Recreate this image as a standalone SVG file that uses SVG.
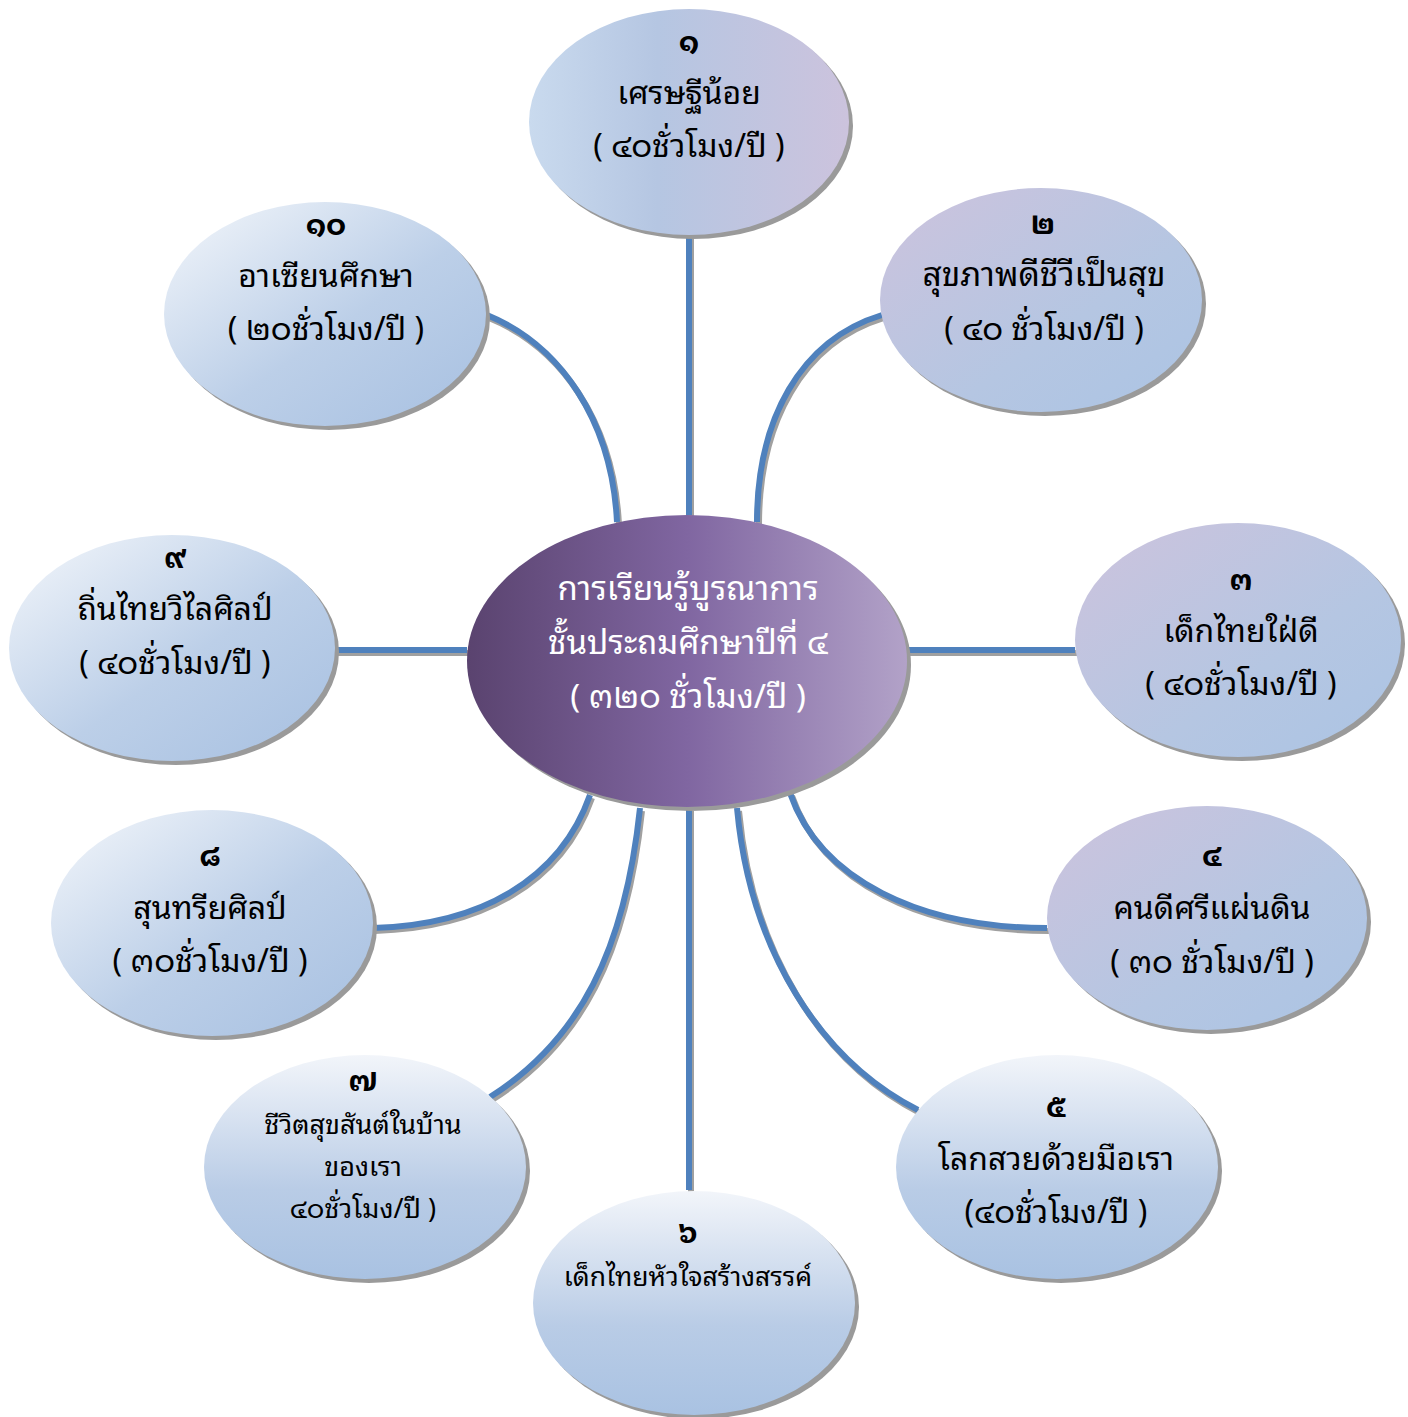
<svg xmlns="http://www.w3.org/2000/svg" width="1408" height="1417" viewBox="0 0 1408 1417">
<defs>
<linearGradient id="gH" x1="0" y1="0" x2="1" y2="0"><stop offset="0" stop-color="#c9daee"/><stop offset="0.4" stop-color="#b5c6e2"/><stop offset="1" stop-color="#ccc3dd"/></linearGradient>
<linearGradient id="gL" x1="0" y1="0" x2="1" y2="1"><stop offset="0" stop-color="#cdc3dd"/><stop offset="0.6" stop-color="#b5c6e2"/><stop offset="1" stop-color="#abc4e4"/></linearGradient>
<linearGradient id="gV" x1="0" y1="0" x2="0" y2="1"><stop offset="0" stop-color="#f2f5fa"/><stop offset="0.6" stop-color="#b9cce6"/><stop offset="1" stop-color="#a9c2e2"/></linearGradient>
<linearGradient id="gD" x1="0" y1="0" x2="1" y2="1"><stop offset="0" stop-color="#f4f7fb"/><stop offset="0.55" stop-color="#bccfe8"/><stop offset="1" stop-color="#a7c0e1"/></linearGradient>
<linearGradient id="gC" x1="0" y1="0" x2="1" y2="0"><stop offset="0" stop-color="#5a436f"/><stop offset="0.5" stop-color="#8066a1"/><stop offset="1" stop-color="#b2a2c8"/></linearGradient>
</defs>
<style>
.sh{fill:#9a9a9a}
.ln{fill:none;stroke:#4f81bd;stroke-width:6}
.lns{fill:none;stroke:#a0a0a0;stroke-width:6}
text{font-family:"Noto Sans Thai Looped","Loma","Garuda","Waree","Noto Sans Thai","Noto Sans","DejaVu Sans",sans-serif;text-anchor:middle;fill:#000}
.t{font-size:32px}
.n{font-size:30px;font-weight:bold}
.s{font-size:27px}
.s6{font-size:26.5px}
.w{fill:#fff;font-size:33px}
</style>
<g id="connectors">
<g transform="translate(2,3)">
<path class="lns" d="M689 235V515"/>
<path class="lns" d="M757 522C757 420 800 340 882 315"/>
<path class="lns" d="M908 650H1075"/>
<path class="lns" d="M790 793C820 880 920 928 1047 928"/>
<path class="lns" d="M737 808C750 950 820 1060 918 1110"/>
<path class="lns" d="M689 808V1190"/>
<path class="lns" d="M640 808C625 950 580 1040 490 1097"/>
<path class="lns" d="M590 795C560 880 480 925 373 928"/>
<path class="lns" d="M336 650H467"/>
<path class="lns" d="M487 315C560 345 612 420 617 522"/>
</g>
<path class="ln" d="M689 235V515"/>
<path class="ln" d="M757 522C757 420 800 340 882 315"/>
<path class="ln" d="M908 650H1075"/>
<path class="ln" d="M790 793C820 880 920 928 1047 928"/>
<path class="ln" d="M737 808C750 950 820 1060 918 1110"/>
<path class="ln" d="M689 808V1190"/>
<path class="ln" d="M640 808C625 950 580 1040 490 1097"/>
<path class="ln" d="M590 795C560 880 480 925 373 928"/>
<path class="ln" d="M336 650H467"/>
<path class="ln" d="M487 315C560 345 612 420 617 522"/>
</g>
<g id="center">
<ellipse class="sh" cx="691" cy="665" rx="220" ry="146"/>
<ellipse cx="687" cy="661" rx="220" ry="146" fill="url(#gC)"/>
<text class="w" x="688" y="600">การเรียนรู้บูรณาการ</text>
<text class="w" x="688" y="654">ชั้นประถมศึกษาปีที่ ๔</text>
<text class="w" x="688" y="708">( ๓๒๐ ชั่วโมง/ปี )</text>
</g>
<g id="node1">
<ellipse class="sh" cx="693" cy="126" rx="160" ry="113"/>
<ellipse cx="689" cy="122" rx="160" ry="113" fill="url(#gH)"/>
<text class="n" x="689" y="52">๑</text>
<text class="t" x="689" y="104">เศรษฐีน้อย</text>
<text class="t" x="689" y="157">( ๔๐ชั่วโมง/ปี )</text>
</g>
<g id="node2">
<ellipse class="sh" cx="1045" cy="304" rx="161" ry="112"/>
<ellipse cx="1041" cy="300" rx="161" ry="112" fill="url(#gL)"/>
<text class="n" x="1043" y="234">๒</text>
<text class="t" x="1044" y="286" style="font-size:33.5px">สุขภาพดีชีวีเป็นสุข</text>
<text class="t" x="1044" y="340">( ๔๐ ชั่วโมง/ปี )</text>
</g>
<g id="node3">
<ellipse class="sh" cx="1242" cy="644" rx="163" ry="117"/>
<ellipse cx="1238" cy="640" rx="163" ry="117" fill="url(#gL)"/>
<text class="n" x="1241" y="590">๓</text>
<text class="t" x="1241" y="642">เด็กไทยใฝ่ดี</text>
<text class="t" x="1241" y="695">( ๔๐ชั่วโมง/ปี )</text>
</g>
<g id="node4">
<ellipse class="sh" cx="1211" cy="922" rx="160" ry="112"/>
<ellipse cx="1207" cy="918" rx="160" ry="112" fill="url(#gL)"/>
<text class="n" x="1212" y="866">๔</text>
<text class="t" x="1212" y="919">คนดีศรีแผ่นดิน</text>
<text class="t" x="1212" y="973">( ๓๐ ชั่วโมง/ปี )</text>
</g>
<g id="node5">
<ellipse class="sh" cx="1061" cy="1171" rx="161" ry="112"/>
<ellipse cx="1057" cy="1167" rx="161" ry="112" fill="url(#gV)"/>
<text class="n" x="1056" y="1117">๕</text>
<text class="t" x="1056" y="1170">โลกสวยด้วยมือเรา</text>
<text class="t" x="1056" y="1223">(๔๐ชั่วโมง/ปี )</text>
</g>
<g id="node6">
<ellipse class="sh" cx="698" cy="1307" rx="161" ry="112"/>
<ellipse cx="694" cy="1303" rx="161" ry="112" fill="url(#gV)"/>
<text class="n" x="688" y="1243">๖</text>
<text class="s6" x="688" y="1286">เด็กไทยหัวใจสร้างสรรค์</text>
</g>
<g id="node7">
<ellipse class="sh" cx="369" cy="1171" rx="161" ry="112"/>
<ellipse cx="365" cy="1167" rx="161" ry="112" fill="url(#gV)"/>
<text class="n" x="363" y="1091">๗</text>
<text class="s" x="363" y="1134">ชีวิตสุขสันต์ในบ้าน</text>
<text class="s" x="363" y="1176">ของเรา</text>
<text class="s" x="363" y="1218">๔๐ชั่วโมง/ปี )</text>
</g>
<g id="node8">
<ellipse class="sh" cx="216" cy="927" rx="161" ry="113"/>
<ellipse cx="212" cy="923" rx="161" ry="113" fill="url(#gD)"/>
<text class="n" x="210" y="866">๘</text>
<text class="t" x="210" y="919">สุนทรียศิลป์</text>
<text class="t" x="210" y="972">( ๓๐ชั่วโมง/ปี )</text>
</g>
<g id="node9">
<ellipse class="sh" cx="176" cy="652" rx="163" ry="113"/>
<ellipse cx="172" cy="648" rx="163" ry="113" fill="url(#gD)"/>
<text class="n" x="175" y="568">๙</text>
<text class="t" x="175" y="620">ถิ่นไทยวิไลศิลป์</text>
<text class="t" x="175" y="674">( ๔๐ชั่วโมง/ปี )</text>
</g>
<g id="node10">
<ellipse class="sh" cx="329" cy="318" rx="161" ry="112"/>
<ellipse cx="325" cy="314" rx="161" ry="112" fill="url(#gD)"/>
<text class="n" x="326" y="235">๑๐</text>
<text class="t" x="326" y="287">อาเซียนศึกษา</text>
<text class="t" x="326" y="340">( ๒๐ชั่วโมง/ปี )</text>
</g>
</svg>
